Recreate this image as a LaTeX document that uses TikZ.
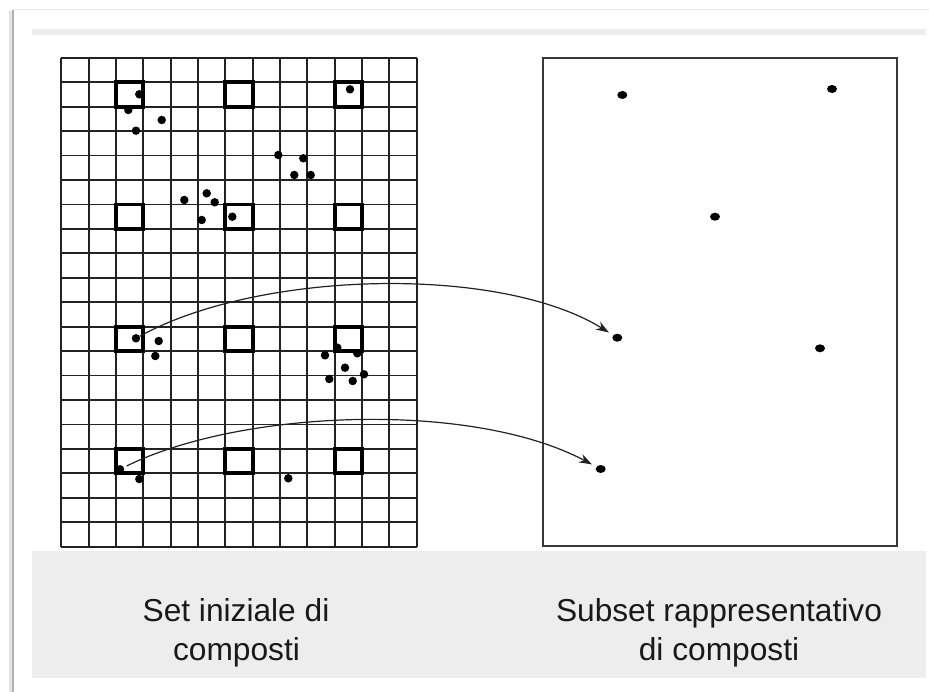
\documentclass[tikz,border=0pt]{standalone}
\usepackage{fontspec}
\setmainfont{Liberation Sans}
\usetikzlibrary{arrows.meta,shapes.geometric}
\definecolor{bandgrey}{HTML}{EDEDED}
\definecolor{gridink}{HTML}{222222}
\tikzset{
  gridline/.style={draw=gridink, line width=1.8pt},
  boldsq/.style={draw=black, line width=3.8pt},
  dot/.style={circle, fill=black, inner sep=0pt, minimum size=8.5pt},
  rdot/.style={ellipse, fill=black, inner sep=0pt, minimum width=10pt, minimum height=8pt},
  panel/.style={draw=gridink!90, line width=2pt},
  arr/.style={draw=gridink, line width=1.2pt, -{Stealth[length=13pt,width=9pt]}},
  lbl/.style={font=\fontsize{31.7}{38}\selectfont, text=black!90, inner sep=0pt, anchor=base}
}
\begin{document}
\begin{tikzpicture}[x=1pt,y=-1pt]
\useasboundingbox (0,0) rectangle (929,692);
\fill[white] (0,0) rectangle (929,692);
% outer frame with shadow
\draw[gray!22, line width=2.5pt] (10.5,11) -- (10.5,692);
\draw[gray!60, line width=1.4pt] (12.8,10) -- (12.8,692);
\draw[gray!15, line width=1pt] (13,9.5) -- (929,9.5);
% grey bands
\fill[bandgrey] (31.7,29.3) rectangle (926,35);
\fill[bandgrey] (31.7,550.7) rectangle (926,678.3);
% grid
\foreach \i in {0,...,13} \draw[gridline] ({61.3+\i*27.34},57.8) -- ({61.3+\i*27.34},546.7);
\foreach \j in {0,...,20} \draw[gridline] (61.3,{57.8+\j*24.44}) -- (416.7,{57.8+\j*24.44});
% bold squares
\foreach \c in {2,6,10} \foreach \r in {1,6,11,16}
  \draw[boldsq] ({61.3+\c*27.34},{57.8+\r*24.44}) rectangle ({61.3+(\c+1)*27.34},{57.8+(\r+1)*24.44});
% left dots
\node[dot] (a1) at (139.3,94.3) {};
\node[dot] (a2) at (128.3,110) {};
\node[dot] (a3) at (161.7,120) {};
\node[dot] (a4) at (136,130.7) {};
\node[dot] (a5) at (350,89.3) {};
\node[dot] (a6) at (278.3,155) {};
\node[dot] (a7) at (303.3,158.3) {};
\node[dot] (a8) at (294.3,175) {};
\node[dot] (a9) at (310.7,175) {};
\node[dot] (a10) at (184.3,200) {};
\node[dot] (a11) at (206.7,193.3) {};
\node[dot] (a12) at (214.7,202.3) {};
\node[dot] (a13) at (201.7,220) {};
\node[dot] (a14) at (232.3,216.7) {};
\node[dot] (s1) at (136,338.3) {};
\node[dot] (a15) at (158.7,341) {};
\node[dot] (a16) at (155.3,356) {};
\node[dot] (a17) at (337.3,347.7) {};
\node[dot] (a18) at (357.3,353.3) {};
\node[dot] (a19) at (325,355.3) {};
\node[dot] (a20) at (345,367.7) {};
\node[dot] (a21) at (329.3,379) {};
\node[dot] (a22) at (352.7,381) {};
\node[dot] (a23) at (364,374.3) {};
\node[dot] (s2) at (120,469.3) {};
\node[dot] (a24) at (139.3,479) {};
\node[dot] (a25) at (288.3,478.3) {};
% right panel
\draw[panel] (542.7,58.3) rectangle (896.7,546.3);
\node[rdot] (b1) at (622.3,95) {};
\node[rdot] (b2) at (832,89) {};
\node[rdot] (b3) at (715,216.7) {};
\node[rdot] (t1) at (617.3,337.7) {};
\node[rdot] (b4) at (820,348.3) {};
\node[rdot] (t2) at (600.7,469) {};
% arrows
\draw[arr, shorten >=5pt] (s1) .. controls (260,270) and (500,265) .. (t1);
\draw[arr, shorten <=3pt, shorten >=5pt] (s2) .. controls (240,410) and (470,400) .. (t2);
% labels
\node[lbl] (l1a) at (236,621.7) {Set iniziale di};
\node[lbl] (l1b) at (236.5,660) {composti};
\node[lbl] (l2a) at (719,621.7) {Subset rappresentativo};
\node[lbl] (l2b) at (719,660) {di composti};
\end{tikzpicture}
\end{document}
